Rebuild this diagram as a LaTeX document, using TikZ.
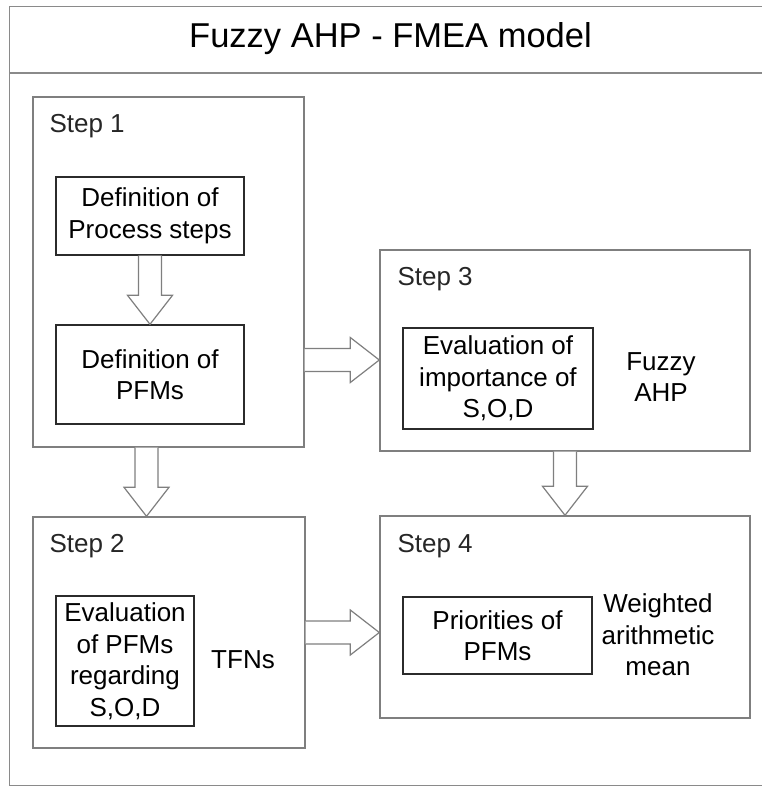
\documentclass[tikz,border=0pt]{standalone}
\usepackage{fontspec}
\setmainfont{Liberation Sans}
\usepackage{xcolor}
\usepackage{tikz}
\usetikzlibrary{calc}
\definecolor{framegray}{HTML}{8A8A8A}
\definecolor{boxgray}{HTML}{7F7F7F}
\definecolor{inkdark}{HTML}{2B2B2B}
\newcommand*{\txtsize}{\fontsize{26}{31.5}\selectfont}
\newcommand*{\fatdown}[2]{%
	\draw[hollow] let \p1=(#1), \p2=(#2) in
	(\x2-11.5pt,\y1) -- (\x2-11.5pt,\y2+29pt) -- (\x2-22.5pt,\y2+29pt) -- (\x2,\y2)
	-- (\x2+22.5pt,\y2+29pt) -- (\x2+11.5pt,\y2+29pt) -- (\x2+11.5pt,\y1);}
\newcommand*{\fatright}[2]{%
	\draw[hollow] let \p1=(#1), \p2=(#2) in
	(\x1,\y2+11.5pt) -- (\x2-29pt,\y2+11.5pt) -- (\x2-29pt,\y2+22.5pt) -- (\x2,\y2)
	-- (\x2-29pt,\y2-22.5pt) -- (\x2-29pt,\y2-11.5pt) -- (\x1,\y2-11.5pt);}
\tikzset{
	stepbox/.style={draw=boxgray, line width=1.4pt, inner sep=0pt},
	innerbox/.style={draw=inkdark, line width=1.4pt, inner sep=0pt, align=center, font=\txtsize, text=black},
	steplabel/.style={anchor=base west, inner sep=0pt, font=\txtsize, text=black!85},
	sidelabel/.style={align=center, inner sep=0pt, font=\txtsize, text=black},
	hollow/.style={draw=boxgray, line width=1.2pt, fill=white, line join=miter},
}
\begin{document}
\begin{tikzpicture}[x=1pt, y=-1pt]
		\useasboundingbox (0,0) rectangle (761,787);
		\draw[framegray, line width=1.4pt] (770,6.5) -- (9.5,6.5) -- (9.5,785.5) -- (770,785.5);
		\draw[framegray, line width=1.4pt] (9.5,73) -- (770,73);
		\node[inner sep=0pt, font=\fontsize{34.5}{40}\selectfont] (title) at (390.5,39) {Fuzzy AHP - FMEA model};
		% step frames
		\node[stepbox, minimum width=271pt, minimum height=350pt] (stepone) at (168.5,272) {};
		\node[stepbox, minimum width=272pt, minimum height=231pt] (steptwo) at (169,632.5) {};
		\node[stepbox, minimum width=370pt, minimum height=201pt] (stepthree) at (565,350.5) {};
		\node[stepbox, minimum width=370pt, minimum height=202pt] (stepfour) at (565,617) {};
		\node[steplabel] (lone) at ($(stepone.north west)+(17,36.5)$) {Step 1};
		\node[steplabel] (ltwo) at ($(steptwo.north west)+(17,36.5)$) {Step 2};
		\node[steplabel] (lthree) at ($(stepthree.north west)+(18,36.5)$) {Step 3};
		\node[steplabel] (lfour) at ($(stepfour.north west)+(18,37.5)$) {Step 4};
		% inner boxes
		\node[innerbox, minimum width=188pt, minimum height=78pt] (defproc) at (150,216) {Definition of\\Process steps};
		\node[innerbox, minimum width=188pt, minimum height=99pt] (defpfm) at (150,374.5) {Definition of\\PFMs};
		\node[innerbox, minimum width=190pt, minimum height=101pt] (evalimp) at (498,378.5) {Evaluation of\\importance of\\S,O,D};
		\node[innerbox, minimum width=138pt, minimum height=130pt] (evalpfm) at (125,661) {Evaluation\\of PFMs\\regarding\\S,O,D};
		\node[innerbox, minimum width=189pt, minimum height=77pt] (prio) at (497.5,635.5) {Priorities of\\PFMs};
		\node[sidelabel] (fahp) at (661,377) {Fuzzy\\AHP};
		\node[sidelabel] (tfn) at (243,660) {TFNs};
		\node[sidelabel] (wam) at (658,635) {Weighted\\arithmetic\\mean};
		% arrows
		\fatdown{defproc.south}{defpfm.north}
		\fatdown{stepone.south}{$(steptwo.north)+(-22.5,0)$}
		\fatdown{stepthree.south}{stepfour.north}
		\fatright{stepone.east}{$(stepthree.west)+(0,9.5)$}
		\fatright{steptwo.east}{steptwo.east -| stepfour.west}
	\end{tikzpicture}
\end{document}
